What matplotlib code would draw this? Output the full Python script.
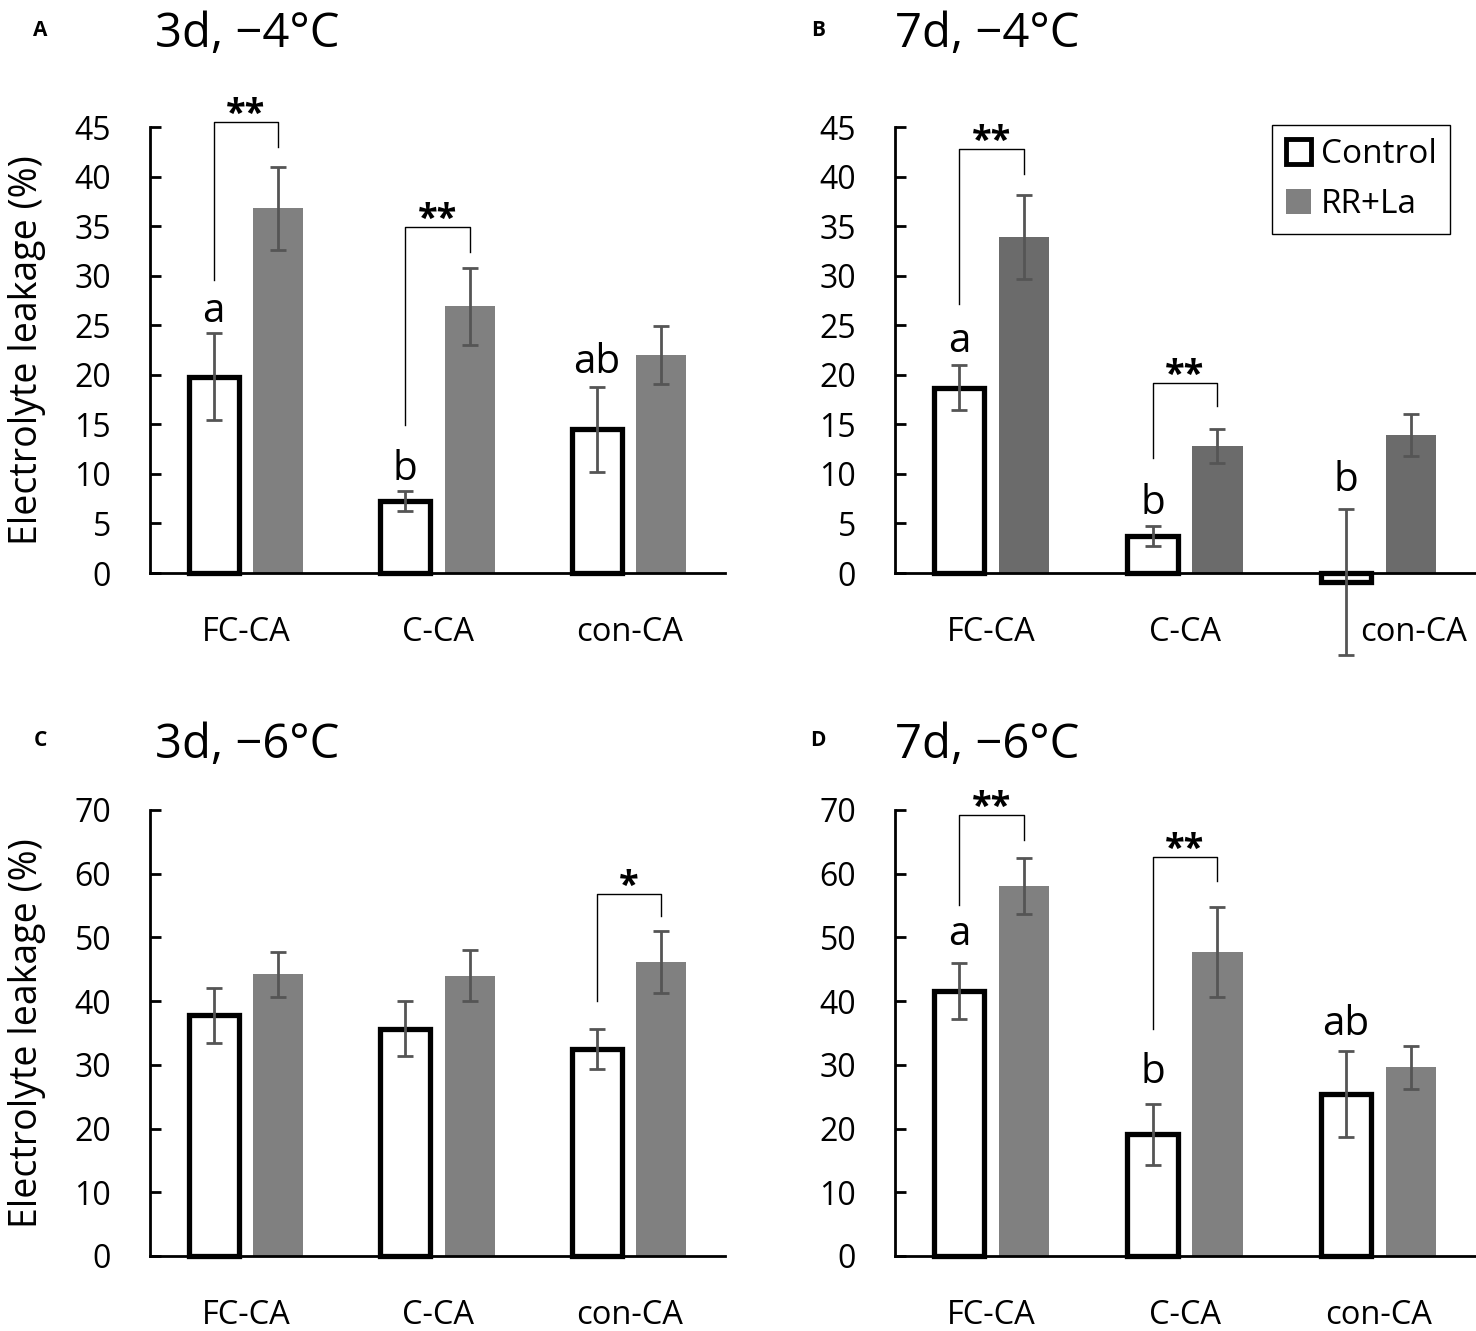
import numpy as np
import matplotlib.pyplot as plt
from matplotlib.patches import Patch

plt.rcParams['font.family'] = ['Open Sans', 'DejaVu Sans']

categories = ["FC-CA", "C-CA", "con-CA"]

# panel A: 3d, -4C
a_ctrl = [19.8, 7.3, 14.5]
a_ctrl_err = [4.4, 1.0, 4.3]
a_rr = [36.8, 26.9, 22.0]
a_rr_err = [4.2, 3.9, 2.9]
a_letters = ["a", "b", "ab"]
a_letter_y = [25.3, 9.4, 20.2]
# bracket: group, left start, top, right end, stars
a_brackets = [(0, 29.6, 45.5, 43.0, "**"), (1, 14.9, 34.9, 32.4, "**")]

# panel B: 7d, -4C
b_ctrl = [18.7, 3.7, -0.9]
b_ctrl_err = [2.3, 1.0, 7.4]
b_rr = [33.9, 12.8, 13.9]
b_rr_err = [4.2, 1.7, 2.1]
b_letters = ["a", "b", "b"]
b_letter_y = [22.3, 6.0, 8.3]
b_brackets = [(0, 27.1, 42.8, 40.3, "**"), (1, 11.6, 19.2, 16.8, "**")]

# panel C: 3d, -6C
c_ctrl = [37.8, 35.7, 32.5]
c_ctrl_err = [4.3, 4.3, 3.1]
c_rr = [44.2, 44.0, 46.1]
c_rr_err = [3.5, 4.0, 4.9]
c_letters = ["", "", ""]
c_letter_y = [0, 0, 0]
c_brackets = [(2, 40.0, 56.8, 53.3, "*")]

# panel D: 7d, -6C
d_ctrl = [41.6, 19.1, 25.4]
d_ctrl_err = [4.4, 4.8, 6.8]
d_rr = [58.0, 47.7, 29.6]
d_rr_err = [4.4, 7.1, 3.4]
d_letters = ["a", "b", "ab"]
d_letter_y = [48.8, 27.1, 34.7]
d_brackets = [(0, 55.1, 69.2, 65.3, "**"), (1, 35.7, 62.6, 58.8, "**")]

W, H = 1476, 1331
fig = plt.figure(figsize=(W / 100, H / 100), dpi=100)

bar_w = 0.26
off = 0.168
err_col = "#555555"


def panel(rect, ctrl, ctrl_err, rr, rr_err, letters, letter_y, brackets,
          ymax, ystep, rr_col, label_shift=0.0):
    ax = fig.add_axes(rect)
    x = np.arange(len(categories))
    ax.bar(x - off, ctrl, bar_w, color="white", edgecolor="black",
           linewidth=3.8, zorder=2, clip_on=False)
    ax.bar(x + off, rr, bar_w, color=rr_col, linewidth=0, zorder=2)
    ax.errorbar(x - off, ctrl, yerr=ctrl_err, fmt="none", ecolor=err_col,
                elinewidth=2, capsize=6, capthick=2, zorder=3, clip_on=False)
    ax.errorbar(x + off, rr, yerr=rr_err, fmt="none", ecolor=err_col,
                elinewidth=2, capsize=6, capthick=2, zorder=3, clip_on=False)
    for i, (t, yy) in enumerate(zip(letters, letter_y)):
        if t:
            ax.text(x[i] - off, yy, t, ha="center", va="baseline", fontsize=29)
    for g, y0, ytop, y1, stars in brackets:
        ax.plot([x[g] - off, x[g] - off, x[g] + off, x[g] + off],
                [y0, ytop, ytop, y1], color="black", lw=1, clip_on=False)
        ax.text(x[g], ytop - ymax * 0.025, stars, ha="center", va="bottom",
                fontsize=26, fontweight="bold", clip_on=False)
    ax.set_xlim(-0.5, 2.5)
    ax.set_ylim(0, ymax)
    ax.set_yticks(np.arange(0, ymax + 1, ystep))
    ticks = list(x.astype(float))
    ticks[-1] += label_shift
    ax.set_xticks(ticks)
    ax.set_xticklabels(categories)
    ax.tick_params(axis="x", length=0, pad=31, labelsize=23.5)
    ax.tick_params(axis="y", direction="in", length=8, width=2, labelsize=23, pad=28)
    for s in ["top", "right"]:
        ax.spines[s].set_visible(False)
    ax.spines["left"].set_linewidth(2)
    ax.spines["bottom"].set_linewidth(2)
    return ax


ax_a = panel([150 / W, 1 - 573 / H, 575 / W, 446 / H], a_ctrl, a_ctrl_err, a_rr, a_rr_err,
             a_letters, a_letter_y, a_brackets, 45, 5, "#808080")
ax_b = panel([895 / W, 1 - 573 / H, 580 / W, 446 / H], b_ctrl, b_ctrl_err, b_rr, b_rr_err,
             b_letters, b_letter_y, b_brackets, 45, 5, "#6b6b6b", label_shift=0.18)
ax_c = panel([150 / W, 1 - 1256 / H, 575 / W, 446 / H], c_ctrl, c_ctrl_err, c_rr, c_rr_err,
             c_letters, c_letter_y, c_brackets, 70, 10, "#808080")
ax_d = panel([895 / W, 1 - 1256 / H, 580 / W, 446 / H], d_ctrl, d_ctrl_err, d_rr, d_rr_err,
             d_letters, d_letter_y, d_brackets, 70, 10, "#808080")

for ax in (ax_a, ax_c):
    ax.set_ylabel("Electrolyte leakage (%)", fontsize=27)
    ax.yaxis.set_label_coords(-0.18, 0.5)

handles = [Patch(facecolor="white", edgecolor="black", linewidth=3.5),
           Patch(facecolor="#808080", edgecolor="none")]
ax_b.legend(handles, ["Control", "RR+La"], loc="upper right",
            bbox_to_anchor=(1450 / W, 1 - 125 / H), bbox_transform=fig.transFigure,
            fancybox=False, edgecolor="black", framealpha=1, fontsize=24,
            handlelength=0.75, handleheight=0.75, handletextpad=0.3, borderpad=0.4,
            labelspacing=0.5, borderaxespad=0)
ax_b.get_legend().get_frame().set_linewidth(1)

titles = [("A", "3d, \u22124\u00b0C", 40, 155, 34),
          ("B", "7d, \u22124\u00b0C", 818, 895, 34),
          ("C", "3d, \u22126\u00b0C", 40, 155, 745),
          ("D", "7d, \u22126\u00b0C", 818, 895, 745)]
for letter, title, lx, tx, ty in titles:
    fig.text(lx / W, 1 - (ty - 4) / H, letter, ha="center", va="center",
             fontsize=15, fontweight="bold")
    fig.text(tx / W, 1 - ty / H, title, ha="left", va="center", fontsize=34)

fig.savefig("out.png", dpi=100)
